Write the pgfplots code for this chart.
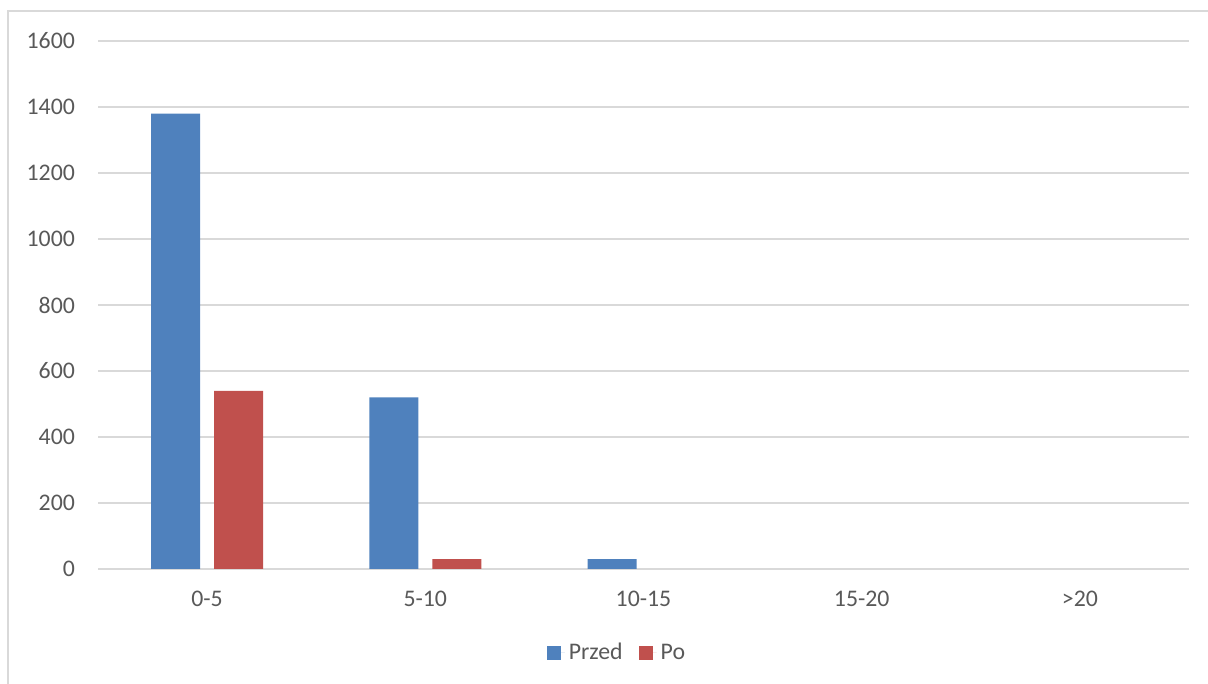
\documentclass[border=0pt]{standalone}
\usepackage{fontspec}
\setmainfont{Carlito}
\usepackage{pgfplots}
\pgfplotsset{compat=1.18}
\definecolor{cblue}{HTML}{4F81BD}
\definecolor{cred}{HTML}{C0504D}
\definecolor{cgrid}{HTML}{D9D9D9}
\definecolor{ctext}{HTML}{595959}
\begin{document}
\begin{tikzpicture}
\useasboundingbox (0,0) rectangle (604pt,342pt);
\draw[cgrid, line width=0.6pt] (4pt,0) -- (4pt,336.5pt) -- (604pt,336.5pt);
\begin{axis}[
  at={(49pt,57.5pt)}, anchor=south west,
  scale only axis, width=545.5pt, height=264pt,
  ybar=7pt, bar width=24.5pt,
  xmin=-0.5, xmax=4.5, ymin=0, ymax=1600,
  xtick={0,1,2,3,4},
  xticklabels={0-5,5-10,10-15,15-20,>20},
  ytick={0,200,...,1600},
  ymajorgrids, grid style={cgrid, line width=0.75pt},
  axis x line*=bottom, axis y line*=left,
  x axis line style={cgrid, line width=0.75pt},
  y axis line style={draw=none},
  major tick length=0pt,
  tick label style={font=\fontsize{11.9}{14}\selectfont, text=ctext},
  /pgf/number format/assume math mode=true,
  /pgf/number format/1000 sep={},
  yticklabel style={xshift=-8pt},
  xticklabel style={yshift=-7.5pt},
  legend style={at={(0.4766,-0.159)}, anchor=center, draw=none, fill=none,
    legend columns=2, font=\fontsize{11.9}{14}\selectfont, text=ctext,
    /tikz/every even column/.append style={column sep=6pt}},
  legend image code/.code={\fill[#1] (0pt,-3.5pt) rectangle (7pt,3.5pt);
    \path (7pt,0) -- (9pt,0);},
]
\addplot[fill=cblue, draw=none] coordinates {(0,1380) (1,520) (2,30)};
\addplot[fill=cred, draw=none] coordinates {(0,540) (1,30)};
\legend{Przed,Po}
\end{axis}
\end{tikzpicture}
\end{document}
